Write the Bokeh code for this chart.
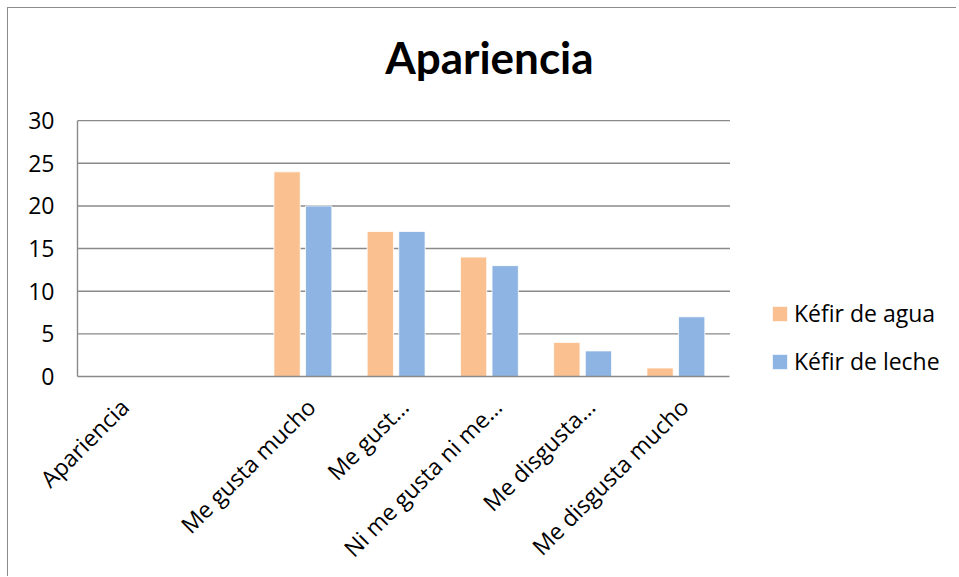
import math

from bokeh.embed import file_html
from bokeh.models import FixedTicker, Label, Legend, LegendItem, Range1d
from bokeh.plotting import figure
from bokeh.resources import INLINE

# Chart data
chart_title = "Apariencia"
categories = [
    "Apariencia",
    "",
    "Me gusta mucho",
    "Me gust\u2026",
    "Ni me gusta ni me\u2026",
    "Me disgusta\u2026",
    "Me disgusta mucho",
]
kefir_agua = [None, None, 24, 17, 14, 4, 1]
kefir_leche = [None, None, 20, 17, 13, 3, 7]
series_names = ["K\u00e9fir de agua", "K\u00e9fir de leche"]
y_ticks = [0, 5, 10, 15, 20, 25, 30]

# Styling
colors = ["#FAC090", "#8DB4E2"]
grid_color = "#8A8A8A"
label_font = "Open Sans"
title_font = "Lato"
label_size = "23px"

# Extent of the plotting area (in category / value units); the frame itself
# is larger so that the title and legend can sit inside it.
area_x = (-0.417, 6.58)
area_y = (0, 30)

p = figure(
    width=949,
    height=569,
    x_range=Range1d(area_x[0], 9.02),
    y_range=Range1d(0, 43.15),
    output_backend="svg",
    toolbar_location=None,
    min_border_left=69,
    min_border_right=0,
    min_border_top=0,
    min_border_bottom=200,
    margin=(7, 0, 0, 7),
    styles={
        "border-left": "1.5px solid #8C8C8C",
        "border-top": "1.5px solid #8C8C8C",
    },
)
p.outline_line_color = None
p.background_fill_color = "white"
p.border_fill_color = "white"
p.xgrid.visible = False
p.ygrid.visible = False

# Horizontal gridlines across the plotting area
grid_y = [t for t in y_ticks if t > area_y[0]]
p.segment(x0=[area_x[0]] * len(grid_y), x1=[area_x[1]] * len(grid_y),
          y0=grid_y, y1=grid_y, line_color=grid_color, line_width=1.4)

# Clustered bars: two series side by side in each category
bar_width = 0.282
offsets = [-0.1695, 0.1695]
renderers = []
for vals, off, col in zip([kefir_agua, kefir_leche], offsets, colors):
    xs = [i + off for i, v in enumerate(vals) if v is not None]
    tops = [v for v in vals if v is not None]
    r = p.vbar(x=xs, top=tops, bottom=0, width=bar_width,
               fill_color=col, line_color="white", line_width=0.8)
    renderers.append(r)

# Axes
p.yaxis.bounds = area_y
p.yaxis.ticker = FixedTicker(ticks=y_ticks)
p.yaxis.axis_line_color = grid_color
p.yaxis.axis_line_width = 1.4
p.yaxis.major_tick_line_color = None
p.yaxis.minor_tick_line_color = None
p.yaxis.major_label_standoff = 17
p.yaxis.major_label_text_font = label_font
p.yaxis.major_label_text_font_size = label_size
p.yaxis.major_label_text_color = "black"

# Rotated category labels: anchored slightly right of each category centre
label_shift = 0.085
x_label_pos = [round(i + label_shift, 3) for i in range(len(categories))]
p.xaxis.bounds = area_x
p.xaxis.ticker = FixedTicker(ticks=x_label_pos)
p.xaxis.major_label_overrides = {pos: c for pos, c in zip(x_label_pos, categories)}
p.xaxis.major_label_orientation = math.pi / 4
p.xaxis.axis_line_color = grid_color
p.xaxis.axis_line_width = 1.4
p.xaxis.major_tick_line_color = None
p.xaxis.minor_tick_line_color = None
p.xaxis.major_label_standoff = 20
p.xaxis.major_label_text_font = label_font
p.xaxis.major_label_text_font_size = label_size
p.xaxis.major_label_text_color = "black"

# Title
p.add_layout(Label(
    x=4.0, y=37.5, text=chart_title, text_align="center",
    text_baseline="alphabetic", text_font=title_font,
    text_font_style="bold", text_font_size="44px", text_color="black",
))

# Legend to the right of the plotting area
legend = Legend(
    items=[LegendItem(label=n, renderers=[r]) for n, r in zip(series_names, renderers)],
    location=(693, -1),
    label_text_font=label_font,
    label_text_font_size=label_size,
    label_text_color="black",
    glyph_width=19,
    glyph_height=19,
    label_standoff=5,
    spacing=16,
    padding=0,
    margin=0,
    border_line_color=None,
    background_fill_alpha=0,
)
p.add_layout(legend, "center")

open("out.html", "w").write(file_html(p, INLINE))
